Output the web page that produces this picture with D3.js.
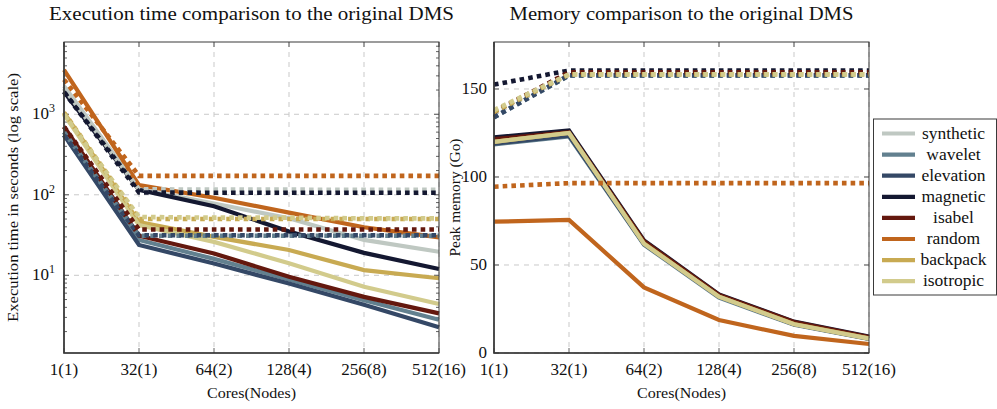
<!DOCTYPE html>
<html>
<head>
<meta charset="utf-8">
<script src="https://cdn.jsdelivr.net/npm/d3@7"></script>
<style>
  html, body { margin: 0; padding: 0; background: #fff; }
</style>
</head>
<body>
<svg id="chart" width="997" height="409" font-family="Liberation Serif" fill="#111"></svg>
<script>
// ---------------- DATA ----------------
const categories = ["1(1)", "32(1)", "64(2)", "128(4)", "256(8)", "512(16)"];
const seriesNames = ["synthetic", "wavelet", "elevation", "magnetic", "isabel", "random", "backpack", "isotropic"];
const seriesColors = ["#bfc8c2", "#62808f", "#344866", "#141831", "#64180e", "#c0651d", "#c8aa52", "#d2cb8c"];

// Execution time (seconds), new version (solid)
const timeSynthetic = [2250, 118, 78, 51, 27.5, 19.6];
const timeWavelet   = [600, 27.5, 16, 8.9, 4.9, 2.8];
const timeElevation = [550, 23.8, 14, 7.9, 4.3, 2.26];
const timeMagnetic  = [1900, 115, 72, 35, 19, 12];
const timeIsabel    = [700, 31, 18.7, 9.6, 5.4, 3.37];
const timeRandom    = [3550, 132, 92, 60, 39.5, 29.6];
const timeBackpack  = [1050, 46, 30, 20.6, 11.6, 9.2];
const timeIsotropic = [1000, 42, 26, 14.1, 7.2, 4.4];

// Execution time (seconds), original DMS (dotted)
const timeOrigSynthetic = [2100, 117, 116, 116, 115, 115];
const timeOrigWavelet   = [600, 31, 31, 31, 31, 31];
const timeOrigElevation = [550, 31.5, 31.5, 31.5, 31.5, 31.5];
const timeOrigMagnetic  = [1900, 107, 106, 106, 106, 106];
const timeOrigIsabel    = [700, 37, 37, 37, 37, 37];
const timeOrigRandom    = [2700, 172, 172, 172, 172, 172];
const timeOrigBackpack  = [1050, 50, 50, 50, 50, 50];
const timeOrigIsotropic = [1000, 53, 52, 52, 51, 51];

// Peak memory (Go), new version (solid)
const memSynthetic = [120, 124.5, 62, 32, 16.3, 8.1];
const memWavelet   = [118.5, 123, 61.5, 31.5, 16, 8];
const memElevation = [119, 123.5, 62, 32, 16.3, 8.1];
const memMagnetic  = [122.5, 126.5, 64, 33.3, 17.8, 9.3];
const memIsabel    = [121.5, 125.5, 63.5, 33, 17.6, 9.1];
const memRandom    = [74.6, 75.6, 37.3, 18.75, 9.7, 5.1];
const memBackpack  = [120, 125, 62.3, 32, 16.5, 8.3];
const memIsotropic = [120, 125, 62, 32, 16.3, 8.2];

// Peak memory (Go), original DMS (dotted)
const memOrigSynthetic = [136, 158, 158, 158, 158, 158];
const memOrigWavelet   = [134, 157.6, 157.6, 157.6, 157.6, 157.6];
const memOrigElevation = [134, 157.8, 157.8, 157.8, 157.8, 157.8];
const memOrigMagnetic  = [152.5, 160.5, 160.5, 160.5, 160.5, 160.5];
const memOrigIsabel    = [137, 159.5, 159.5, 159.5, 159.5, 159.5];
const memOrigRandom    = [94.5, 96.5, 96.5, 96.5, 96.5, 96.5];
const memOrigBackpack  = [137, 158.3, 158.3, 158.3, 158.3, 158.3];
const memOrigIsotropic = [138, 158.3, 158.3, 158.3, 158.3, 158.3];

const timeTicks = [10, 100, 1000];
const timeTickExp = ["1", "2", "3"];
const memTicks = [0, 50, 100, 150];

const timeSolid = [timeSynthetic, timeWavelet, timeElevation, timeMagnetic, timeIsabel, timeRandom, timeBackpack, timeIsotropic];
const timeDotted = [timeOrigSynthetic, timeOrigWavelet, timeOrigElevation, timeOrigMagnetic, timeOrigIsabel, timeOrigRandom, timeOrigBackpack, timeOrigIsotropic];
const memSolid = [memSynthetic, memWavelet, memElevation, memMagnetic, memIsabel, memRandom, memBackpack, memIsotropic];
const memDotted = [memOrigSynthetic, memOrigWavelet, memOrigElevation, memOrigMagnetic, memOrigIsabel, memOrigRandom, memOrigBackpack, memOrigIsotropic];

// ---------------- LAYOUT ----------------
const svg = d3.select("#chart");
const plotTop = 42, plotBottom = 353;
const panels = [
  { x0: 64, x1: 439, title: "Execution time comparison to the original DMS", titleW: 405,
    ylabel: "Execution time in seconds (log scale)", ylabelW: 249, ylabelX: 13 },
  { x0: 494, x1: 869, title: "Memory comparison to the original DMS", titleW: 344,
    ylabel: "Peak memory (Go)", ylabelW: 118, ylabelX: 455 }
];

const frameColor = "#3a3a3a";
const gridColor = "#c9c9c9";

function drawPanel(p, yScale, solid, dotted, yTicks, yTickFmt, minorTicks) {
  const x = d3.scalePoint().domain(categories).range([p.x0, p.x1]);
  const g = svg.append("g");

  // grid
  g.selectAll(".gx").data(categories).enter().append("line")
    .attr("x1", d => x(d)).attr("x2", d => x(d)).attr("y1", plotTop).attr("y2", plotBottom)
    .attr("stroke", gridColor).attr("stroke-width", 1).attr("stroke-dasharray", "5,5");
  g.selectAll(".gy").data(yTicks).enter().append("line")
    .attr("x1", p.x0).attr("x2", p.x1).attr("y1", d => yScale(d)).attr("y2", d => yScale(d))
    .attr("stroke", gridColor).attr("stroke-width", 1).attr("stroke-dasharray", "5,5");

  // ticks (inside)
  const tk = g.append("g").attr("stroke", frameColor).attr("stroke-width", 0.8);
  yTicks.forEach(v => {
    tk.append("line").attr("x1", p.x0).attr("x2", p.x0 + 5).attr("y1", yScale(v)).attr("y2", yScale(v));
    tk.append("line").attr("x1", p.x1).attr("x2", p.x1 - 5).attr("y1", yScale(v)).attr("y2", yScale(v));
  });
  minorTicks.forEach(v => {
    tk.append("line").attr("x1", p.x0).attr("x2", p.x0 + 3).attr("y1", yScale(v)).attr("y2", yScale(v));
    tk.append("line").attr("x1", p.x1).attr("x2", p.x1 - 3).attr("y1", yScale(v)).attr("y2", yScale(v));
  });
  categories.forEach(c => {
    tk.append("line").attr("x1", x(c)).attr("x2", x(c)).attr("y1", plotBottom).attr("y2", plotBottom - 5);
    tk.append("line").attr("x1", x(c)).attr("x2", x(c)).attr("y1", plotTop).attr("y2", plotTop + 5);
  });

  // lines
  const line = d3.line().x((d, i) => x(categories[i])).y(d => yScale(d));
  const lg = g.append("g");
  seriesNames.forEach((name, i) => {
    lg.append("path").datum(solid[i]).attr("d", line)
      .attr("fill", "none").attr("stroke", seriesColors[i]).attr("stroke-width", 4.2)
      .attr("stroke-linejoin", "miter");
  });
  seriesNames.forEach((name, i) => {
    lg.append("path").datum(dotted[i]).attr("d", line)
      .attr("fill", "none").attr("stroke", seriesColors[i]).attr("stroke-width", 4.6)
      .attr("stroke-dasharray", "4.6,4.1").attr("stroke-linecap", "butt");
  });

  // frame
  g.append("rect").attr("x", p.x0).attr("y", plotTop).attr("width", p.x1 - p.x0).attr("height", plotBottom - plotTop)
    .attr("fill", "none").attr("stroke", frameColor).attr("stroke-width", 1);
  g.append("path").attr("d", `M${p.x0},${plotTop}V${plotBottom}H${p.x1}`)
    .attr("fill", "none").attr("stroke", frameColor).attr("stroke-width", 1.6);

  // x tick labels
  g.selectAll(".xl").data(categories).enter().append("text")
    .attr("x", d => x(d)).attr("y", 375).attr("text-anchor", "middle")
    .attr("font-size", 17).text(d => d);
  // y tick labels
  yTicks.forEach((v, k) => {
    const t = g.append("text").attr("x", p.x0 - 7).attr("y", yScale(v) + 5)
      .attr("text-anchor", "end").attr("font-size", 17);
    yTickFmt(t, v, k);
  });

  // axis labels
  g.append("text").attr("x", (p.x0 + p.x1) / 2).attr("y", 398).attr("text-anchor", "middle")
    .attr("font-size", 14).attr("textLength", 89).attr("lengthAdjust", "spacingAndGlyphs").text("Cores(Nodes)");
  g.append("text").attr("transform", `translate(${p.ylabelX},${(plotTop + plotBottom) / 2}) rotate(-90)`)
    .attr("dy", "0.35em").attr("text-anchor", "middle").attr("font-size", 14)
    .attr("textLength", p.ylabelW).attr("lengthAdjust", "spacingAndGlyphs").text(p.ylabel);
  // title
  g.append("text").attr("x", (p.x0 + p.x1) / 2).attr("y", 20).attr("text-anchor", "middle")
    .attr("font-size", 19).attr("textLength", p.titleW).attr("lengthAdjust", "spacingAndGlyphs").text(p.title);
}

// left: log scale
const yTime = d3.scaleLog().domain([1.084, 7900]).range([plotBottom, plotTop]);
const minorTime = [];
[1, 10, 100, 1000].forEach(dec => { for (let m = 2; m <= 9; m++) { const v = m * dec; if (v > 1.084 && v < 7900) minorTime.push(v); } });
drawPanel(panels[0], yTime, timeSolid, timeDotted, timeTicks, (t, v, k) => {
  t.attr("x", panels[0].x0 - 9);
  t.append("tspan").text("10");
  t.append("tspan").attr("dy", -7).attr("font-size", 12).text(timeTickExp[k]);
}, minorTime);

// right: linear scale
const yMem = d3.scaleLinear().domain([0, 176.7]).range([plotBottom, plotTop]);
drawPanel(panels[1], yMem, memSolid, memDotted, memTicks, (t, v) => { t.text(v); }, []);

// legend
const lgX = 873.5, lgY = 119, lgW = 123, lgH = 176;
const leg = svg.append("g");
leg.append("rect").attr("x", lgX).attr("y", lgY).attr("width", lgW).attr("height", lgH)
  .attr("fill", "#fff").attr("stroke", frameColor).attr("stroke-width", 1);
seriesNames.forEach((name, i) => {
  const cy = 133.5 + i * 21.1;
  leg.append("line").attr("x1", 882).attr("x2", 915).attr("y1", cy).attr("y2", cy)
    .attr("stroke", seriesColors[i]).attr("stroke-width", 4.2);
  leg.append("text").attr("x", 953.5).attr("y", cy + 5).attr("text-anchor", "middle")
    .attr("font-size", 17.5).text(name);
});
</script>
</body>
</html>
